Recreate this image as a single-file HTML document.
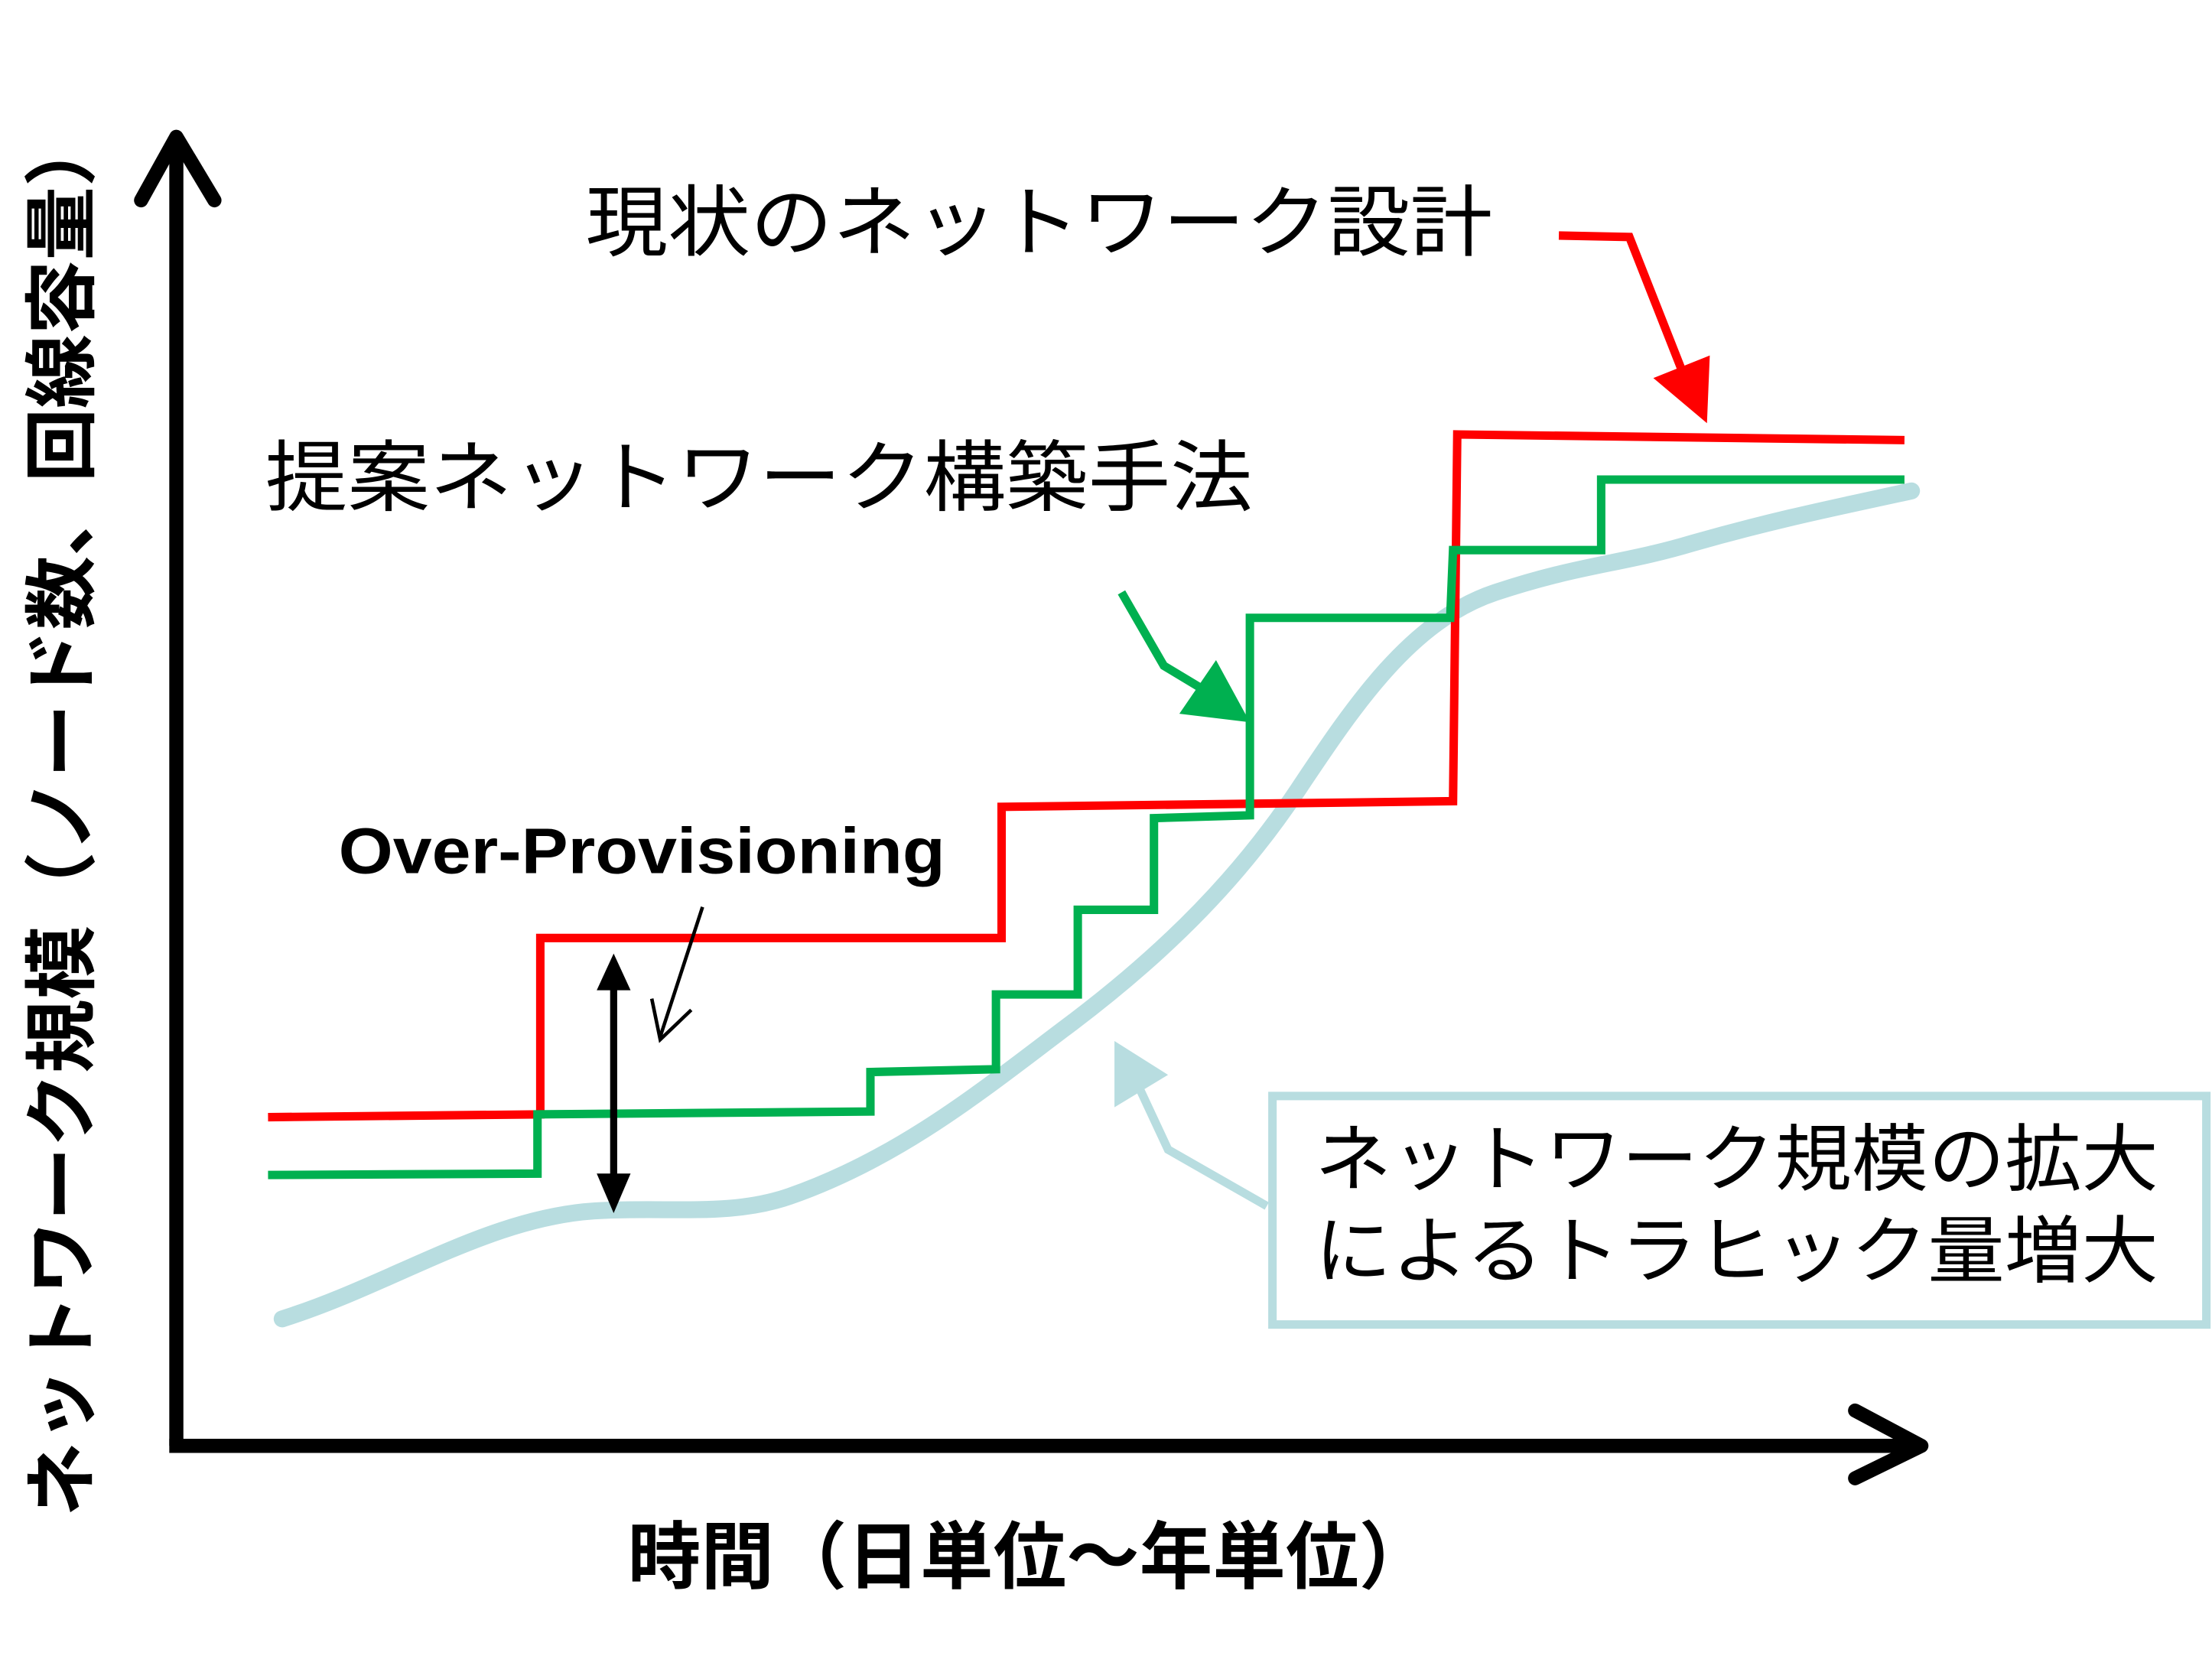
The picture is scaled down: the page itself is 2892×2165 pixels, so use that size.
<!DOCTYPE html>
<html><head><meta charset="utf-8"><style>
html,body{margin:0;padding:0;background:#fff;}
svg{display:block;}
text{font-family:"Liberation Sans","Noto Sans CJK JP",sans-serif;}
</style></head><body>
<svg width="2892" height="2165" viewBox="0 0 1568 1174" preserveAspectRatio="none" xmlns="http://www.w3.org/2000/svg">
<rect width="1568" height="1174" fill="#fff"/>
<!-- traffic curve -->
<path d="M200,935 C280,910 350,860 430,858 C480,856 520,862 560,848 C640,820 700,770 760,725 C830,672 880,620 920,560 C960,500 1000,440 1060,420 C1120,400 1150,400 1200,385 C1260,368 1300,360 1355,348" fill="none" stroke="#b8dde0" stroke-width="12" stroke-linecap="round"/>
<!-- red -->
<polyline points="190,792 383,790 383,665 710,665 710,572 1030,568 1033,308 1350,312" fill="none" stroke="#ff0000" stroke-width="6"/>
<!-- green -->
<polyline points="190,833 381,832 381,790 617,788 617,760 706,758 706,705 764,705 764,645 818,645 818,580 886,578 886,438 1028,438 1030,390 1135,390 1135,340 1350,340" fill="none" stroke="#00b050" stroke-width="6"/>
<!-- axes -->
<line x1="125" y1="100" x2="125" y2="1025" stroke="#000" stroke-width="10"/>
<line x1="120" y1="1025" x2="1360" y2="1025" stroke="#000" stroke-width="10"/>
<polyline points="100,142 125,97 152,142" fill="none" stroke="#000" stroke-width="10" stroke-linecap="round" stroke-linejoin="round"/>
<polyline points="1315,1000 1362,1025 1315,1048" fill="none" stroke="#000" stroke-width="10" stroke-linecap="round" stroke-linejoin="round"/>
<!-- red arrow -->
<polyline points="1105,167 1155,168 1192,262" fill="none" stroke="#ff0000" stroke-width="6"/>
<polygon points="1210,300 1172,268 1212,252" fill="#ff0000"/>
<!-- green arrow -->
<polyline points="795,420 825,472 850,487" fill="none" stroke="#00b050" stroke-width="6"/>
<polygon points="886,512 836,506 862,468" fill="#00b050"/>
<!-- double arrow -->
<line x1="435" y1="695" x2="435" y2="842" stroke="#000" stroke-width="5"/>
<polygon points="435,676 423,702 447,702" fill="#000"/>
<polygon points="435,860 423,832 447,832" fill="#000"/>
<!-- thin arrow -->
<line x1="498" y1="643" x2="468" y2="735" stroke="#000" stroke-width="2.5"/>
<polyline points="462,708 468,737 490,716" fill="none" stroke="#000" stroke-width="2.5"/>
<!-- light blue arrow -->
<polyline points="898,855 828,815 800,755" fill="none" stroke="#b8dde0" stroke-width="6"/>
<polygon points="790,738 790,785 828,762" fill="#b8dde0"/>
<!-- box -->
<rect x="902" y="777" width="662" height="162" fill="#fff" stroke="#b8dde0" stroke-width="6"/>
<!-- texts -->
<text x="415" y="177" font-size="55" textLength="643" lengthAdjust="spacingAndGlyphs">現状のネットワーク設計</text>
<text x="188" y="358" font-size="55" textLength="700" lengthAdjust="spacingAndGlyphs">提案ネットワーク構築手法</text>
<text x="240" y="619" font-size="46" font-weight="bold" textLength="430" lengthAdjust="spacingAndGlyphs">Over-Provisioning</text>
<text x="932" y="840" font-size="52" textLength="598" lengthAdjust="spacingAndGlyphs">ネットワーク規模の拡大</text>
<text x="932" y="905" font-size="52" textLength="598" lengthAdjust="spacingAndGlyphs">によるトラヒック量増大</text>
<text x="445" y="1122" font-size="52" font-weight="bold" textLength="570" lengthAdjust="spacingAndGlyphs">時間（日単位～年単位）</text>
<text transform="translate(62,1075) rotate(-90)" x="0" y="0" font-size="52" font-weight="bold" textLength="995" lengthAdjust="spacingAndGlyphs">ネットワーク規模（ノード数、回線容量）</text>
</svg>
</body></html>
